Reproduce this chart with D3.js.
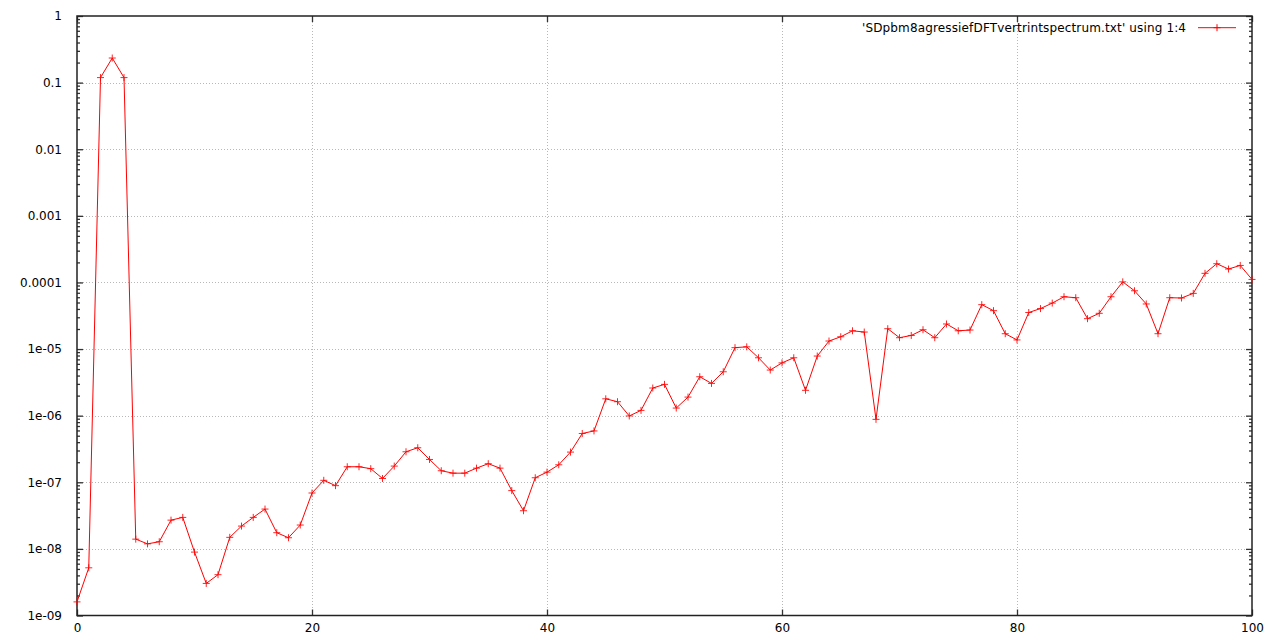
<!DOCTYPE html>
<html>
<head>
<meta charset="utf-8">
<script src="https://cdn.jsdelivr.net/npm/d3@7"></script>
<style>
  html, body { margin: 0; padding: 0; background: #fff; }
  svg { display: block; }
  text { font-family: "DejaVu Sans", sans-serif; font-size: 12px; fill: #000; }
</style>
</head>
<body>
<svg id="chart" width="1276" height="641"></svg>
<script>
const xValues = d3.range(0, 101);
const yValues = [
  1.6e-9, 5.2e-9, 0.119, 0.234, 0.119, 1.40e-8, 1.19e-8, 1.28e-8, 2.7e-8, 2.97e-8,
  8.95e-9, 3.03e-9, 4.1e-9, 1.49e-8, 2.2e-8, 2.97e-8, 3.96e-8, 1.75e-8, 1.47e-8, 2.28e-8,
  6.9e-8, 1.07e-7, 8.9e-8, 1.71e-7, 1.71e-7, 1.6e-7, 1.14e-7, 1.75e-7, 2.87e-7, 3.3e-7,
  2.2e-7, 1.49e-7, 1.37e-7, 1.37e-7, 1.63e-7, 1.9e-7, 1.63e-7, 7.5e-8, 3.74e-8, 1.17e-7,
  1.42e-7, 1.83e-7, 2.84e-7, 5.4e-7, 5.9e-7, 1.79e-6, 1.62e-6, 9.9e-7, 1.2e-6, 2.6e-6,
  2.95e-6, 1.3e-6, 1.9e-6, 3.84e-6, 3.05e-6, 4.56e-6, 1.05e-5, 1.08e-5, 7.4e-6, 4.84e-6,
  6.2e-6, 7.4e-6, 2.4e-6, 7.85e-6, 1.32e-5, 1.53e-5, 1.88e-5, 1.8e-5, 8.8e-7, 2.02e-5,
  1.48e-5, 1.6e-5, 1.95e-5, 1.48e-5, 2.38e-5, 1.88e-5, 1.93e-5, 4.64e-5, 3.77e-5, 1.7e-5,
  1.37e-5, 3.54e-5, 4.05e-5, 4.9e-5, 6.1e-5, 5.9e-5, 2.86e-5, 3.44e-5, 6.1e-5, 1.02e-4,
  7.5e-5, 4.75e-5, 1.7e-5, 5.9e-5, 5.84e-5, 6.85e-5, 1.37e-4, 1.91e-4, 1.59e-4, 1.8e-4,
  1.11e-4
];
const xTicks = [0, 20, 40, 60, 80, 100];
const yTicks = [1e-9, 1e-8, 1e-7, 1e-6, 1e-5, 1e-4, 1e-3, 1e-2, 1e-1, 1];
const yTickLabels = ["1e-09", "1e-08", "1e-07", "1e-06", "1e-05", "0.0001", "0.001", "0.01", "0.1", "1"];
const legendLabel = "'SDpbm8agressiefDFTvertrintspectrum.txt' using 1:4";

const pL = 77, pR = 1252, pT = 16, pB = 615.5;
const svg = d3.select("#chart");
const x = d3.scaleLinear().domain([0, 100]).range([pL, pR]);
const y = d3.scaleLog().domain([1e-9, 1]).range([pB, pT]);

// minor ticks (2..9 of each decade)
const minorTicks = [];
for (let e = -9; e < 0; e++) for (let k = 2; k <= 9; k++) minorTicks.push(k * Math.pow(10, e));

// grid
const grid = svg.append("g").attr("stroke", "#b8b8b8").attr("stroke-width", 1).attr("stroke-dasharray", "1,2");
grid.selectAll("line.gy").data(yTicks.slice(1, -1)).enter().append("line")
  .attr("x1", pL).attr("x2", pR)
  .attr("y1", d => Math.round(y(d)) + 0.5).attr("y2", d => Math.round(y(d)) + 0.5);
grid.selectAll("line.gx").data(xTicks.slice(1, -1)).enter().append("line")
  .attr("y1", pT).attr("y2", pB)
  .attr("x1", d => Math.round(x(d)) + 0.5).attr("x2", d => Math.round(x(d)) + 0.5);

function styleAxis(g) {
  g.select(".domain").remove();
  g.selectAll(".tick line").attr("stroke", "#333").attr("stroke-width", 1.3);
}
const gLeft = svg.append("g").attr("transform", `translate(${pL},0)`)
  .call(d3.axisLeft(y).tickValues(yTicks).tickSize(-6).tickPadding(15)
    .tickFormat((d, i) => yTickLabels[i]));
styleAxis(gLeft);
gLeft.selectAll(".tick text").attr("font-family", "DejaVu Sans, sans-serif").attr("font-size", 12).attr("fill", "#000").attr("x", -15);
const gLeftMinor = svg.append("g").attr("transform", `translate(${pL},0)`)
  .call(d3.axisLeft(y).tickValues(minorTicks).tickSize(-3).tickFormat(""));
styleAxis(gLeftMinor);
const gRight = svg.append("g").attr("transform", `translate(${pR},0)`)
  .call(d3.axisRight(y).tickValues(yTicks).tickSize(-6).tickFormat(""));
styleAxis(gRight);
const gRightMinor = svg.append("g").attr("transform", `translate(${pR},0)`)
  .call(d3.axisRight(y).tickValues(minorTicks).tickSize(-3).tickFormat(""));
styleAxis(gRightMinor);
const gBottom = svg.append("g").attr("transform", `translate(0,${pB})`)
  .call(d3.axisBottom(x).tickValues(xTicks).tickSize(-6).tickPadding(12).tickFormat(d3.format("d")));
styleAxis(gBottom);
gBottom.selectAll(".tick text").attr("font-family", "DejaVu Sans, sans-serif").attr("font-size", 12).attr("fill", "#000").attr("y", 8);
const gTop = svg.append("g").attr("transform", `translate(0,${pT})`)
  .call(d3.axisTop(x).tickValues(xTicks).tickSize(-6).tickFormat(""));
styleAxis(gTop);

// border
svg.append("rect").attr("x", pL).attr("y", pT).attr("width", pR - pL).attr("height", pB - pT)
  .attr("fill", "none").attr("stroke", "#222").attr("stroke-width", 1.5);

// data line
const data = xValues.map((d, i) => [d, yValues[i]]);
const line = d3.line().x(d => x(d[0])).y(d => y(d[1]));
svg.append("path").datum(data).attr("d", line)
  .attr("fill", "none").attr("stroke", "#ff0000").attr("stroke-width", 1);

// markers
const ms = 3.5;
const plus = (cx, cy) => `M${cx - ms},${cy}H${cx + ms}M${cx},${cy - ms}V${cy + ms}`;
svg.append("g").selectAll("path").data(data).enter().append("path")
  .attr("d", d => plus(x(d[0]), y(d[1])))
  .attr("stroke", "#ff0000").attr("stroke-width", 1).attr("opacity", 0.85);

// legend
const ly = 27.7;
svg.append("text").attr("x", 1186).attr("y", 31.5).attr("text-anchor", "end")
  .attr("textLength", 324).attr("lengthAdjust", "spacing").text(legendLabel);
svg.append("line").attr("x1", 1198).attr("x2", 1236).attr("y1", ly).attr("y2", ly)
  .attr("stroke", "#ff0000").attr("stroke-width", 1);
svg.append("path").attr("d", plus(1217, ly)).attr("stroke", "#ff0000").attr("stroke-width", 1);
</script>
</body>
</html>
